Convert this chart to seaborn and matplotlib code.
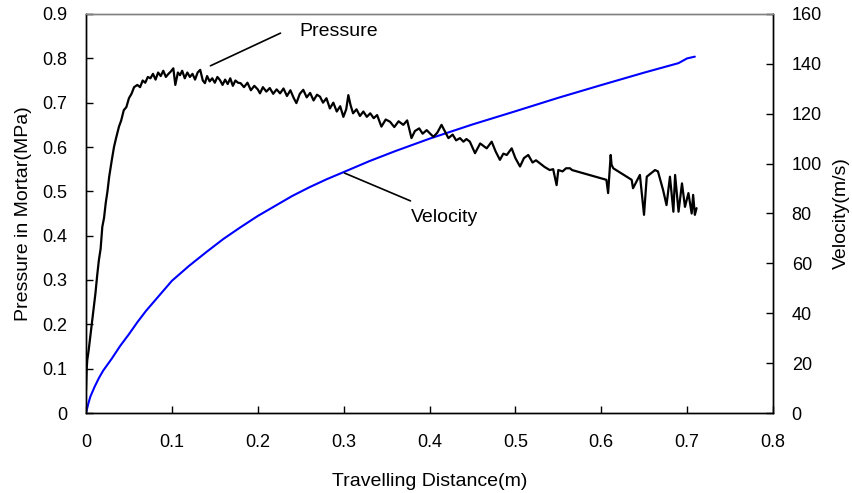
import matplotlib
matplotlib.use("Agg")
import matplotlib.pyplot as plt
import seaborn as sns
import pandas as pd

# ---- data ----
vel_x = [0, 0.0025, 0.005, 0.01, 0.015, 0.02, 0.03, 0.04, 0.05, 0.06, 0.07,
         0.08, 0.09, 0.10, 0.12, 0.14, 0.16, 0.18, 0.20, 0.22, 0.24, 0.26,
         0.28, 0.30, 0.33, 0.36, 0.40, 0.45, 0.50, 0.55, 0.60, 0.65, 0.69,
         0.70, 0.709]
vel_v = [0, 3.5, 6.5, 10.5, 14, 17, 21.8, 27, 31.6, 36.5, 41,
         45, 49, 53, 59, 64.5, 69.8, 74.5, 79, 83, 87, 90.5,
         93.7, 96.6, 101, 105, 110, 115.7, 121, 126.4, 131.5, 136.5, 140.3,
         142.2, 142.9]

pres_x = [0.000, 0.0008, 0.0015, 0.003, 0.0055, 0.008, 0.011, 0.013, 0.015, 0.017,
          0.019, 0.021, 0.023, 0.025, 0.027, 0.030, 0.0326, 0.035, 0.0384, 0.041,
          0.044, 0.047, 0.050, 0.053, 0.056, 0.0598, 0.063, 0.066, 0.069, 0.072,
          0.075, 0.078, 0.081, 0.084, 0.087, 0.090, 0.093, 0.096, 0.0986, 0.1017,
          0.104, 0.107, 0.1095, 0.112, 0.115, 0.118, 0.121, 0.124, 0.127, 0.130,
          0.133, 0.136, 0.1385, 0.141, 0.144, 0.147, 0.150, 0.153, 0.156, 0.159,
          0.162, 0.165, 0.168, 0.171, 0.174, 0.177, 0.180, 0.184, 0.188, 0.192,
          0.196, 0.200, 0.2026, 0.206, 0.210, 0.214, 0.218, 0.222, 0.226, 0.230,
          0.234, 0.238, 0.242, 0.245, 0.249, 0.253, 0.257, 0.261, 0.265, 0.269,
          0.2725, 0.276, 0.280, 0.284, 0.288, 0.292, 0.296, 0.2997, 0.303, 0.3055,
          0.308, 0.311, 0.315, 0.319, 0.323, 0.327, 0.331, 0.335, 0.339, 0.344,
          0.349, 0.354, 0.359, 0.364, 0.3695, 0.374, 0.379, 0.383, 0.388, 0.392,
          0.3967, 0.4045, 0.409, 0.414, 0.418, 0.422, 0.427, 0.431, 0.4355, 0.4395,
          0.443, 0.447, 0.453, 0.459, 0.4666, 0.4724, 0.477, 0.482, 0.486, 0.490,
          0.4957, 0.500, 0.5054, 0.510, 0.515, 0.520, 0.524, 0.5287, 0.534, 0.540,
          0.544, 0.548, 0.550, 0.555, 0.559, 0.5636, 0.566, 0.606, 0.608, 0.611,
          0.612, 0.614, 0.6354, 0.637, 0.645, 0.6498, 0.653, 0.6626, 0.666, 0.672,
          0.676, 0.680, 0.684, 0.686, 0.690, 0.694, 0.6975, 0.7015, 0.7053, 0.707,
          0.709, 0.711]
pres_p = [0.05, 0.10, 0.12, 0.14, 0.18, 0.22, 0.27, 0.31, 0.345, 0.37,
          0.42, 0.44, 0.474, 0.50, 0.533, 0.57, 0.60, 0.62, 0.646, 0.66,
          0.683, 0.69, 0.71, 0.72, 0.735, 0.74, 0.735, 0.75, 0.745, 0.758,
          0.755, 0.765, 0.752, 0.768, 0.76, 0.772, 0.758, 0.765, 0.77, 0.7775,
          0.74, 0.768, 0.762, 0.772, 0.755, 0.768, 0.758, 0.765, 0.752, 0.768,
          0.774, 0.75, 0.744, 0.76, 0.748, 0.755, 0.745, 0.758, 0.751, 0.74,
          0.752, 0.742, 0.755, 0.738, 0.75, 0.745, 0.744, 0.735, 0.745, 0.728,
          0.738, 0.73, 0.721, 0.735, 0.725, 0.733, 0.72, 0.73, 0.721, 0.732,
          0.715, 0.728, 0.71, 0.699, 0.72, 0.729, 0.712, 0.722, 0.705, 0.718,
          0.7135, 0.70, 0.71, 0.687, 0.70, 0.68, 0.692, 0.668, 0.685, 0.717,
          0.695, 0.676, 0.685, 0.67, 0.68, 0.668, 0.676, 0.665, 0.672, 0.646,
          0.662, 0.657, 0.645, 0.658, 0.65, 0.66, 0.62, 0.636, 0.642, 0.63,
          0.638, 0.623, 0.632, 0.65, 0.635, 0.62, 0.628, 0.615, 0.62, 0.612,
          0.618, 0.612, 0.586, 0.608, 0.597, 0.612, 0.59, 0.571, 0.585, 0.582,
          0.597, 0.575, 0.556, 0.575, 0.582, 0.565, 0.57, 0.563, 0.555, 0.548,
          0.55, 0.514, 0.548, 0.545, 0.552, 0.552, 0.548, 0.526, 0.496, 0.582,
          0.56, 0.552, 0.526, 0.507, 0.537, 0.447, 0.533, 0.548, 0.545, 0.503,
          0.469, 0.533, 0.454, 0.537, 0.454, 0.518, 0.465, 0.496, 0.450, 0.492,
          0.447, 0.462]

x_ticks = [0, 0.1, 0.2, 0.3, 0.4, 0.5, 0.6, 0.7, 0.8]
x_labels = ["0", "0.1", "0.2", "0.3", "0.4", "0.5", "0.6", "0.7", "0.8"]
p_ticks = [0, 0.1, 0.2, 0.3, 0.4, 0.5, 0.6, 0.7, 0.8, 0.9]
p_labels = ["0", "0.1", "0.2", "0.3", "0.4", "0.5", "0.6", "0.7", "0.8", "0.9"]
v_ticks = [0, 20, 40, 60, 80, 100, 120, 140, 160]

sns.set_theme(style="white")
plt.rcParams['font.family'] = ['Liberation Sans', 'DejaVu Sans']

fig = plt.figure(figsize=(8.53, 4.93), dpi=100)
ax = fig.add_axes([86/853, 1-413/493, (773-86)/853, (413-14)/493])
ax2 = ax.twinx()

dfp = pd.DataFrame({"x": pres_x, "p": pres_p})
dfv = pd.DataFrame({"x": vel_x, "v": vel_v})

sns.lineplot(data=dfp, x="x", y="p", ax=ax, color="black", lw=1.6,
             sort=False, estimator=None)
sns.lineplot(data=dfv, x="x", y="v", ax=ax2, color="#0000ff", lw=1.5,
             sort=False, estimator=None)

ax.set_xlim(0, 0.8)
ax.set_ylim(0, 0.9)
ax2.set_ylim(0, 160)
ax.set_xticks(x_ticks)
ax.set_xticklabels(x_labels)
ax.set_yticks(p_ticks)
ax.set_yticklabels(p_labels)
ax2.set_yticks(v_ticks)
ax2.set_yticklabels([str(v) for v in v_ticks])

tfs = 13
lfs = 14
ax.tick_params(axis='both', direction='in', length=5, width=1, color='black',
               labelsize=tfs, labelcolor='black')
ax.tick_params(axis='x', pad=15, bottom=True)
ax.tick_params(axis='y', pad=13.5, left=True)
ax2.tick_params(axis='y', direction='in', length=5, width=1, color='black',
                labelsize=tfs, pad=13.5, right=True, labelcolor='black')

ax.set_xlabel("Travelling Distance(m)", fontsize=lfs, labelpad=16, color='black')
ax.set_ylabel("Pressure in Mortar(MPa)", fontsize=lfs, labelpad=7, color='black')
ax2.set_ylabel("Velocity(m/s)", fontsize=lfs, labelpad=8, color='black')

for a in (ax, ax2):
    for name, sp in a.spines.items():
        sp.set_visible(True)
        sp.set_color('black')
        sp.set_linewidth(1.0)
    a.spines['top'].set_color('#808080')
    a.grid(False)

ax.set_zorder(ax2.get_zorder() + 1)
ax.patch.set_visible(False)

# annotations with leader lines
ax.annotate("", xy=(0.142, 0.7805), xytext=(0.2294, 0.8595),
            arrowprops=dict(arrowstyle='-', color='black', lw=1.2))
ax.text(0.249, 0.8595, "Pressure", fontsize=lfs, va='center', ha='left', color='black')
ax.annotate("", xy=(0.298, 0.5437), xytext=(0.3808, 0.476),
            arrowprops=dict(arrowstyle='-', color='black', lw=1.2))
ax.text(0.378, 0.442, "Velocity", fontsize=lfs, va='center', ha='left', color='black')

fig.savefig("out.png", dpi=100)
